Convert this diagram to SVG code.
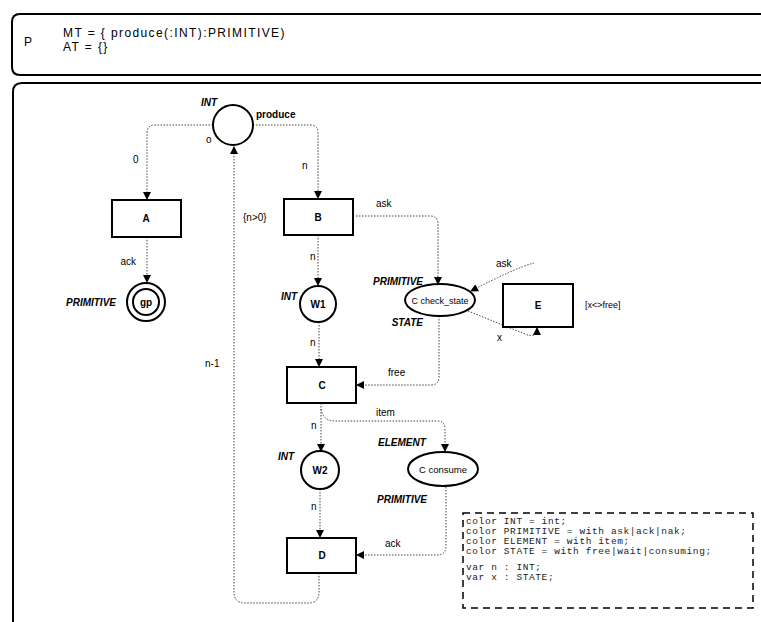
<svg xmlns="http://www.w3.org/2000/svg" width="761" height="622" viewBox="0 0 761 622">
<defs>
<marker id="ah" markerUnits="userSpaceOnUse" markerWidth="8" markerHeight="8" refX="7" refY="4" orient="auto">
<path d="M0,0 L8,4 L0,8 z" fill="#000"/>
</marker>
<style>
.frame{fill:none;stroke:#000;stroke-width:2}
.tr{fill:#fff;stroke:#000;stroke-width:2}
.pl{fill:#fff;stroke:#000;stroke-width:2}
.arc{fill:none;stroke:#444;stroke-width:1;stroke-dasharray:1.5 1.5;marker-end:url(#ah)}
.t{font-family:"Liberation Sans",Arial,sans-serif;font-size:10px;fill:#000}
.c{text-anchor:middle}
.e{text-anchor:end}
.b{font-weight:bold}
.ty{font-weight:bold;font-style:italic}
.hd{font-family:"Liberation Sans",Arial,sans-serif;font-size:12px;letter-spacing:1.4px;fill:#000}
.mono{font-family:"Liberation Mono","Courier New",monospace;font-size:9.5px;letter-spacing:0.6px;fill:#222}
</style>
</defs>
<rect width="761" height="622" fill="#fff"/>
<g id="header">
<path class="frame" d="M761 14 L20 14 Q12 14 12 22 L12 67 Q12 75 20 75 L761 75"/>
<text class="hd" x="24" y="46">P</text>
<text class="hd" x="63" y="37">MT = { produce(:INT):PRIMITIVE)</text>
<text class="hd" x="63" y="51">AT = {}</text>
</g>
<g id="mainframe">
<path class="frame" d="M761 83 L22 83 Q13 83 13 92 L13 622"/>
</g>
<g id="connectors">
<path class="arc" d="M213 125 L155 125 Q147 125 147 133 L147 199"/>
<text class="t" x="133" y="163">0</text>
<path class="arc" d="M147 237 L147 282"/>
<text class="t e" x="136" y="265">ack</text>
<path class="arc" d="M253 125 L310 125 Q318 125 318 133 L318 198"/>
<text class="t" x="302" y="169">n</text>
<path class="arc" d="M353 216 L430 216 Q438 216 438 224 L438 284"/>
<text class="t" x="376" y="207">ask</text>
<path class="arc" d="M318 235 L318 285"/>
<text class="t" x="310" y="260">n</text>
<path class="arc" d="M319 322 L319 366"/>
<text class="t" x="310" y="346">n</text>
<path class="arc" d="M439 316 L439 377 Q439 385 431 385 L357 385"/>
<text class="t" x="388" y="376">free</text>
<path class="arc" d="M534 263 Q515 268 471 291"/>
<text class="t" x="496" y="267">ask</text>
<path class="arc" d="M468 311 L525 334 Q537 339 537 328"/>
<text class="t" x="497" y="341">x</text>
<path class="arc" d="M321 403 L321 451"/>
<text class="t" x="311" y="429">n</text>
<path class="arc" d="M321 409 Q323 421 335 421 L437 421 Q445 421 445 429 L445 451"/>
<text class="t" x="376" y="416">item</text>
<path class="arc" d="M320 489 L320 537"/>
<text class="t" x="311" y="510">n</text>
<path class="arc" d="M446 487 L446 546 Q446 555 437 555 L357 555"/>
<text class="t" x="385" y="547">ack</text>
<path class="arc" d="M319 573 L319 592 Q319 603 308 603 L245 603 Q234 603 234 592 L234 147"/>
<text class="t" x="205" y="367">n-1</text>
</g>
<g id="P0">
<circle class="pl" cx="233" cy="125" r="20"/>
<text class="t ty e" x="217" y="106">INT</text>
<text class="t b" x="256" y="118">produce</text>
<text class="t" x="206" y="143">o</text>
</g>
<g id="A">
<rect class="tr" x="112" y="200" width="69" height="37"/>
<text class="t b c" x="146" y="222">A</text>
</g>
<g id="gp">
<circle class="pl" cx="146" cy="302" r="19"/>
<circle class="pl" cx="146" cy="302" r="13"/>
<text class="t b c" x="146" y="306">gp</text>
<text class="t ty e" x="116" y="306">PRIMITIVE</text>
</g>
<g id="B">
<rect class="tr" x="284" y="199" width="69" height="36"/>
<text class="t b c" x="318" y="221">B</text>
<text class="t" x="243" y="221">{n&gt;0}</text>
</g>
<g id="check_state">
<ellipse class="pl" cx="440" cy="300" rx="35" ry="16"/>
<text class="t c" x="440" y="304" style="font-size:9px">C check_state</text>
<text class="t ty e" x="423" y="285">PRIMITIVE</text>
<text class="t ty e" x="423" y="326">STATE</text>
</g>
<g id="E">
<rect class="tr" x="503" y="284" width="70" height="43"/>
<text class="t b c" x="538" y="309">E</text>
<text class="t" x="585" y="308" style="font-size:9px">[x&lt;&gt;free]</text>
</g>
<g id="W1">
<circle class="pl" cx="318" cy="304" r="18"/>
<text class="t b c" x="318" y="308">W1</text>
<text class="t ty e" x="297" y="300">INT</text>
</g>
<g id="C">
<rect class="tr" x="287" y="367" width="69" height="36"/>
<text class="t b c" x="322" y="389">C</text>
</g>
<g id="W2">
<circle class="pl" cx="320" cy="470" r="19"/>
<text class="t b c" x="320" y="474">W2</text>
<text class="t ty e" x="294" y="460">INT</text>
</g>
<g id="consume">
<ellipse class="pl" cx="443" cy="469" rx="35" ry="17"/>
<text class="t c" x="443" y="473" style="font-size:9.5px">C consume</text>
<text class="t ty" x="378" y="446">ELEMENT</text>
<text class="t ty" x="377" y="503">PRIMITIVE</text>
</g>
<g id="D">
<rect class="tr" x="287" y="538" width="69" height="35"/>
<text class="t b c" x="322" y="559">D</text>
</g>
<g id="declarations">
<rect x="463" y="513" width="290" height="95" fill="none" stroke="#000" stroke-width="1.5" stroke-dasharray="7 5"/>
<text class="mono" x="466" y="524">color INT = int;</text>
<text class="mono" x="466" y="534">color PRIMITIVE = with ask|ack|nak;</text>
<text class="mono" x="466" y="544">color ELEMENT = with item;</text>
<text class="mono" x="466" y="554">color STATE = with free|wait|consuming;</text>
<text class="mono" x="466" y="570">var n : INT;</text>
<text class="mono" x="466" y="580">var x : STATE;</text>
</g>
</svg>
